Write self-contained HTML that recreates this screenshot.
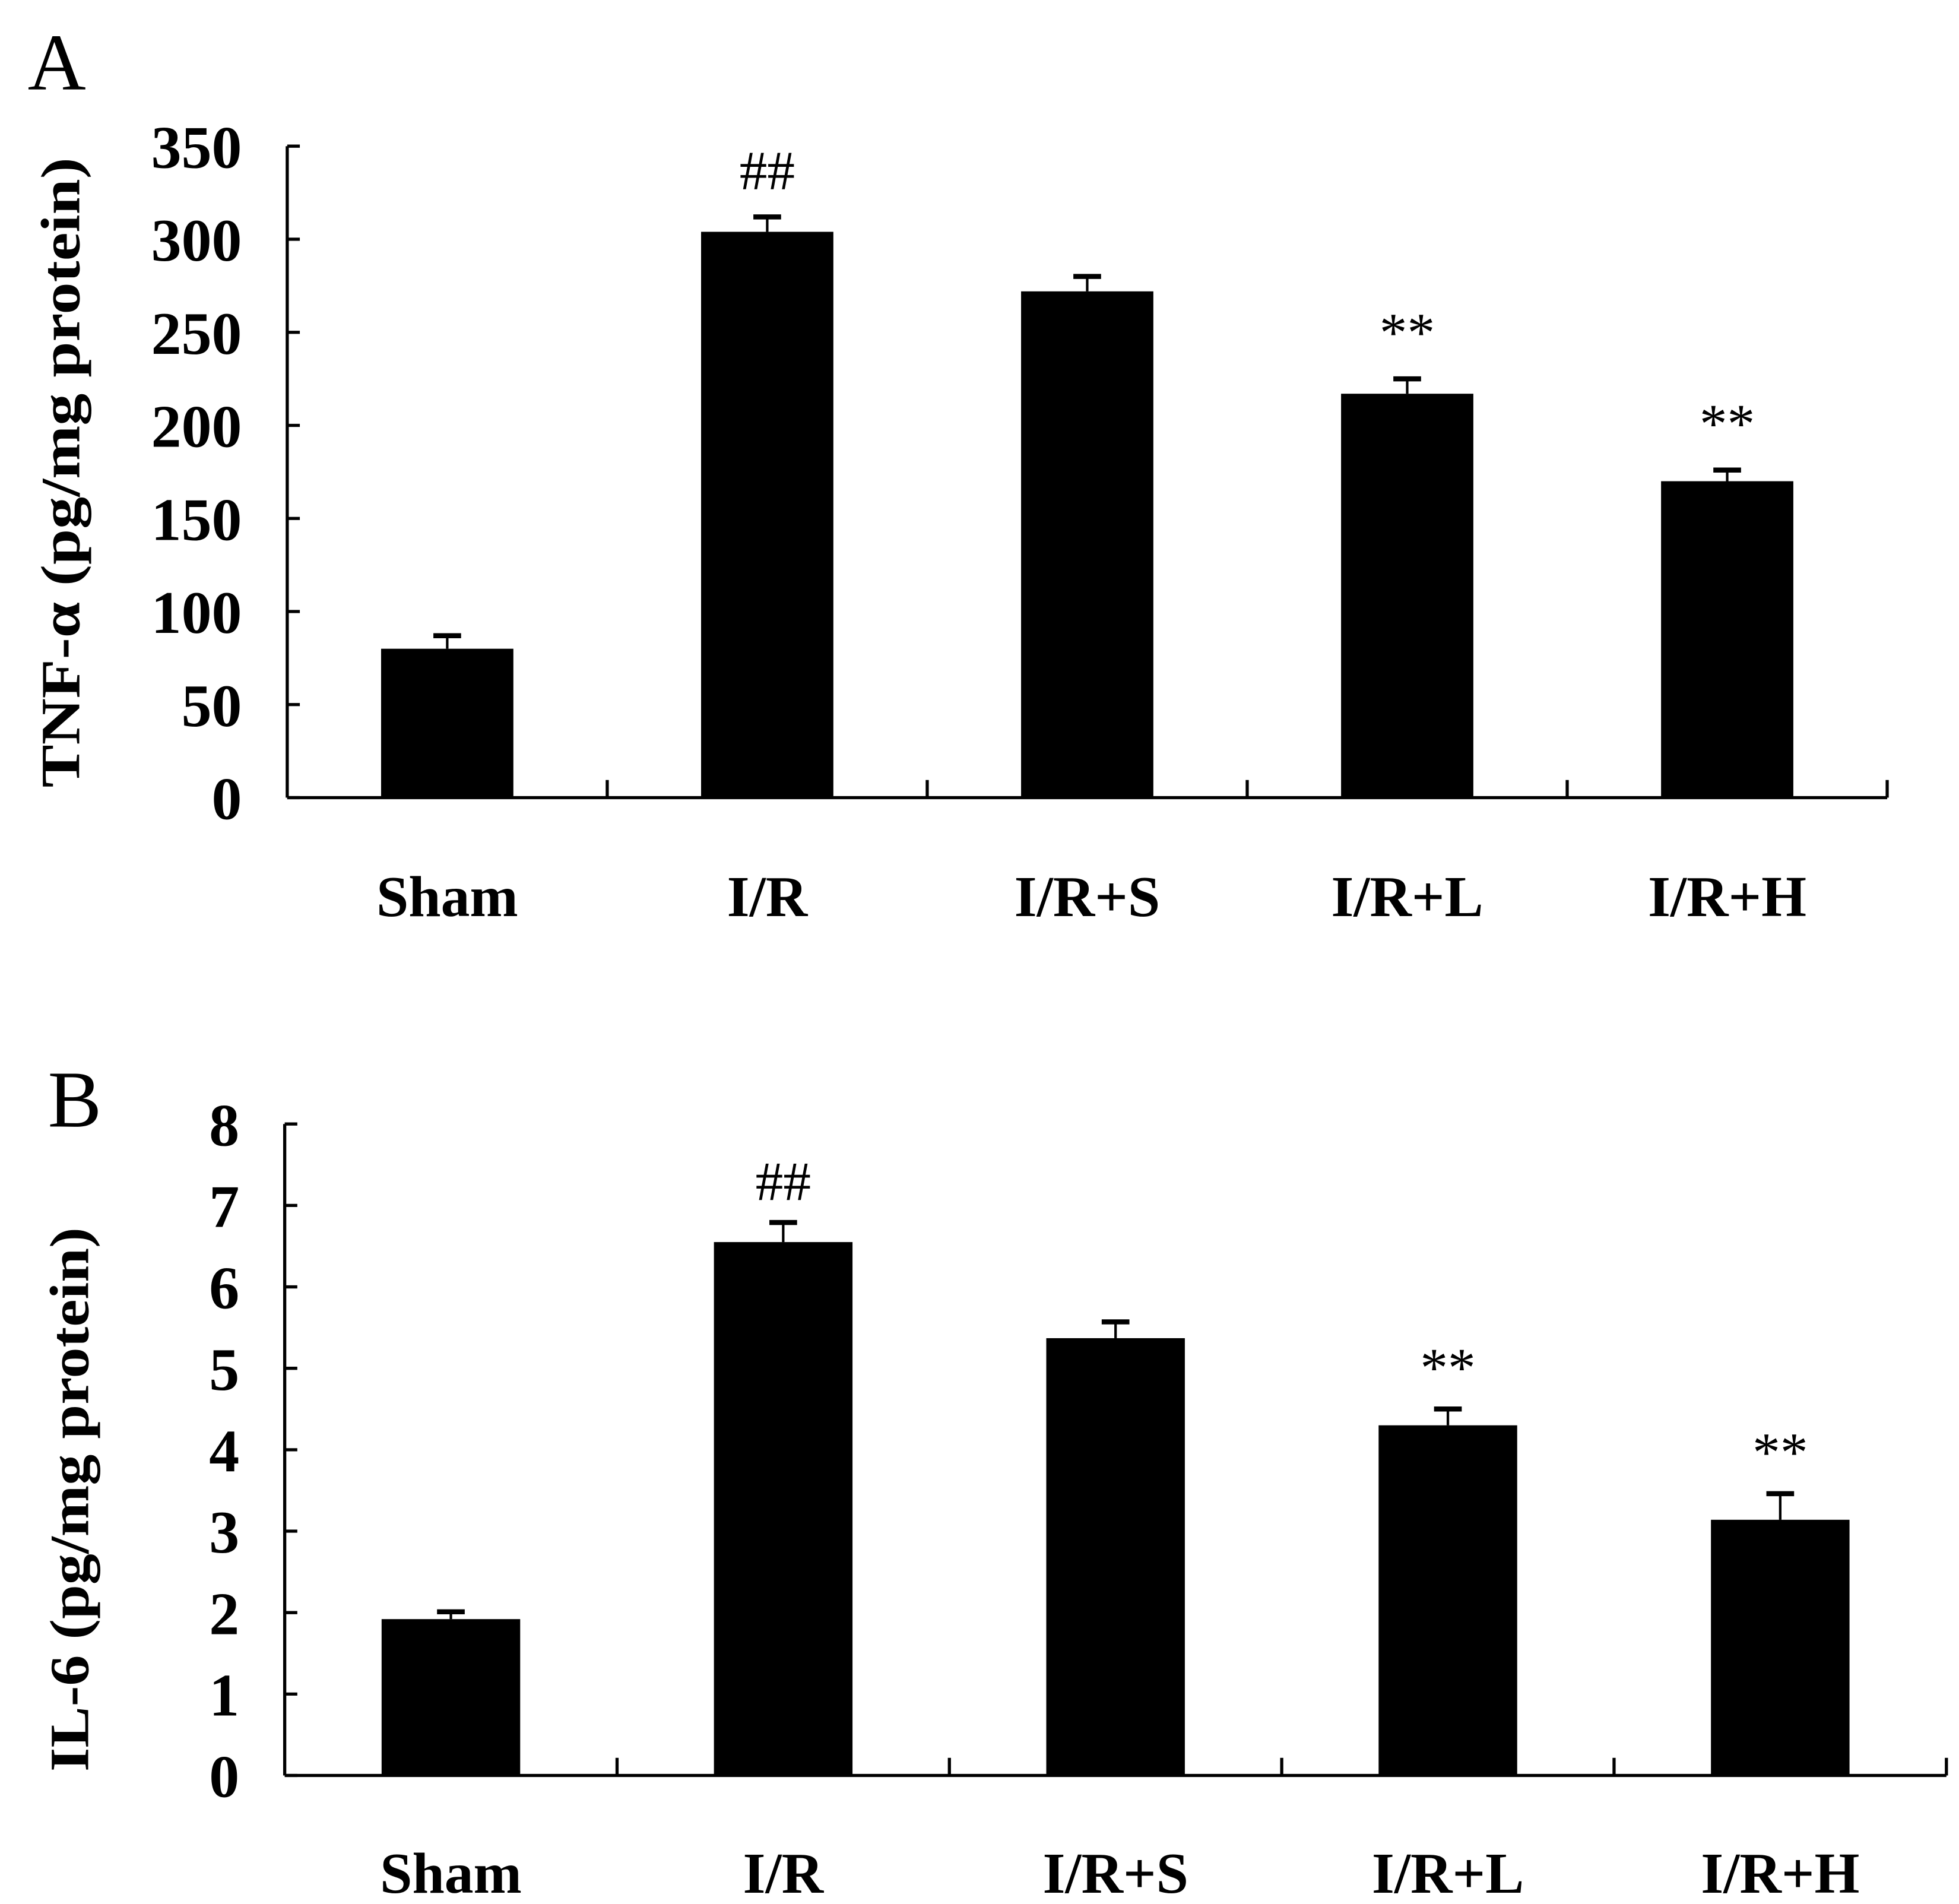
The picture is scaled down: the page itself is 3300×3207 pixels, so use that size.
<!DOCTYPE html>
<html><head><meta charset="utf-8"><style>
html,body{margin:0;padding:0;background:#fff}
svg{display:block}
text{font-family:"Liberation Serif",serif;fill:#000}
</style></head><body>
<svg id="fig" width="3300" height="3207" viewBox="0 0 1555 1511" preserveAspectRatio="none" xmlns="http://www.w3.org/2000/svg">
<text x="22" y="71" font-size="64">A</text>
<text x="38" y="894" font-size="64">B</text>
<text transform="translate(63,375) rotate(-90)" text-anchor="middle" font-size="44" font-weight="bold" textLength="500" lengthAdjust="spacingAndGlyphs">TNF-α (pg/mg protein)</text>
<text transform="translate(70,1190) rotate(-90)" text-anchor="middle" font-size="44" font-weight="bold" textLength="432" lengthAdjust="spacingAndGlyphs">IL-6  (pg/mg protein)</text>
<g id="chartA"></g>
<g id="chartB"></g>
</svg>
<script>
const categories = ["Sham","I/R","I/R+S","I/R+L","I/R+H"];
const tnfValues = [80, 304, 272, 217, 170];
const tnfErrors = [7, 8, 8, 8, 6];
const tnfTicks = [0,50,100,150,200,250,300,350];
const tnfMarks = ["", "##", "", "**", "**"];
const il6Values = [1.92, 6.55, 5.37, 4.30, 3.14];
const il6Errors = [0.09, 0.24, 0.2, 0.2, 0.32];
const il6Ticks = [0,1,2,3,4,5,6,7,8];
const il6Marks = ["", "##", "", "**", "**"];

const NS = "http://www.w3.org/2000/svg";
function mk(parent, tag, attrs){const e=document.createElementNS(NS,tag);for(const k in attrs)e.setAttribute(k,attrs[k]);parent.appendChild(e);return e;}

function draw(g, cfg){
  const {x0,x1,yTop,yBot,vmax,values,errors,ticks,marks,barW,catY,markGap} = cfg;
  const yScale = v => yBot - (v/vmax)*(yBot-yTop);
  const step = (x1-x0)/categories.length;
  const xScale = i => x0 + step*(i+0.5);
  let a = mk(g,'line',{x1:x0,y1:yTop,x2:x0,y2:yBot,stroke:'#000','stroke-width':2.5});
  
  
  a = mk(g,'line',{x1:x0,y1:yBot,x2:x1,y2:yBot,stroke:'#000','stroke-width':2.5});
  
  
  ticks.forEach(t=>{
    const y=yScale(t);
    const l=mk(g,'line',{x1:x0,y1:y,x2:x0+10,y2:y,stroke:'#000','stroke-width':2.5});
    
    
    const tx=mk(g,'text',{x:x0-36,y:y+17,'text-anchor':'end','font-size':48,'font-weight':'bold'});
    tx.textContent=t;
    
    
  });
  for(let i=1;i<=categories.length;i++){
    const x=x0+step*i;
    const l=mk(g,'line',{x1:x,y1:yBot,x2:x,y2:yBot-14,stroke:'#000','stroke-width':2.5});
    
    
  }
  categories.forEach((c,i)=>{
    const cx=xScale(i);
    const top=yScale(values[i]);
    const r=mk(g,'rect',{x:cx-barW/2,y:top,width:barW,height:yBot-top,fill:'#000'});
    
    
    const et=yScale(values[i]+errors[i]);
    const e1=mk(g,'line',{x1:cx,y1:top,x2:cx,y2:et,stroke:'#000','stroke-width':2});
    
    
    const e2=mk(g,'line',{x1:cx-11,y1:et,x2:cx+11,y2:et,stroke:'#000','stroke-width':4});
    
    
    if(marks[i]){
      const m=mk(g,'text',{x:cx,y:et-markGap,'text-anchor':'middle','font-size':44});
      m.textContent=marks[i];
      
      
    }
    const t=mk(g,'text',{x:cx,y:catY,'text-anchor':'middle','font-size':46,'font-weight':'bold'});
    t.textContent=c;
    
    
  });
}
draw(document.getElementById('chartA'),{x0:228,x1:1498,yTop:116,yBot:633,vmax:350,values:tnfValues,errors:tnfErrors,ticks:tnfTicks,marks:tnfMarks,barW:105,catY:727,markGap:22});
draw(document.getElementById('chartB'),{x0:226,x1:1545,yTop:892,yBot:1409,vmax:8,values:il6Values,errors:il6Errors,ticks:il6Ticks,marks:il6Marks,barW:110,catY:1502,markGap:18});
</script>
</body></html>
